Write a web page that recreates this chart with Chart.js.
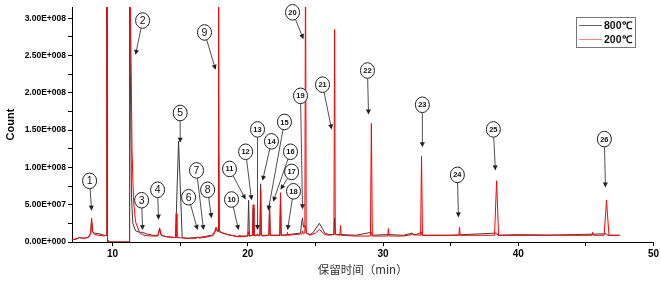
<!DOCTYPE html>
<html>
<head>
<meta charset="utf-8">
<script src="https://cdn.jsdelivr.net/npm/chart.js@4.4.1/dist/chart.umd.min.js"></script>
<style>
  html, body { margin: 0; padding: 0; background: #fff; }
  #wrap { width: 661px; height: 281px; }
</style>
</head>
<body>
<div id="wrap"><canvas id="gc" width="661" height="281"></canvas></div>
<script>
// retention time (min) / signal in millions of counts
const trace800 = [
  [7.0, 3], [7.3, 4], [7.55, 6], [7.8, 5], [8.2, 6], [8.38, 10], [8.45, 28], [8.52, 14], [8.65, 12],
  [9.0, 11], [9.4, 9], [9.53, 9], [9.58, 400], [9.63, 2], [9.66, 0], [11.22, 0], [11.26, 400],
  [11.33, 200], [11.4, 60], [11.5, 25], [11.7, 15], [12.0, 13], [12.22, 13], [12.5, 11], [13.0, 9],
  [13.35, 9], [13.48, 17], [13.6, 9], [14.0, 7], [14.5, 6], [14.66, 6], [14.88, 135], [15.15, 6],
  [15.5, 5], [16.3, 6], [16.75, 7], [17.3, 9], [17.6, 14], [17.68, 18], [17.8, 14], [17.84, 118],
  [17.9, 16], [18.0, 13], [18.5, 10], [19.3, 7], [19.4, 8], [20.0, 8], [20.06, 56], [20.12, 8],
  [20.35, 9], [20.4, 45], [20.45, 9], [20.72, 9], [20.9, 9], [20.95, 78], [21.0, 9], [21.56, 9],
  [21.61, 45], [21.66, 9], [22.37, 9], [22.42, 58], [22.47, 9], [23.0, 10], [23.9, 12], [24.0, 28],
  [24.05, 32], [24.12, 20], [24.27, 22], [24.35, 12], [24.6, 10], [24.8, 12], [25.3, 25], [25.7, 12],
  [26.0, 10], [26.37, 10], [26.42, 32], [26.47, 10], [26.86, 10], [28.0, 9], [29.14, 13], [29.2, 9],
  [30.4, 10], [31.5, 9], [32.18, 12], [32.3, 9], [32.85, 13], [32.9, 9], [35.0, 9], [38.4, 12],
  [38.5, 9], [42.0, 9], [46.53, 11], [46.6, 9], [47.5, 9]
];
const trace200 = [
  [7.0, 3], [7.3, 4], [7.55, 6], [7.8, 5], [8.2, 6], [8.38, 12], [8.45, 32], [8.52, 14], [8.65, 10],
  [9.0, 9], [9.4, 8], [9.53, 9], [9.58, 400], [9.63, 2], [9.66, 0], [11.22, 0], [11.26, 400],
  [11.37, 242], [11.44, 122], [11.55, 56], [11.7, 27], [11.99, 13], [12.15, 10], [12.22, 11],
  [12.3, 9], [12.8, 8], [13.35, 8], [13.48, 19], [13.6, 9], [14.0, 7], [14.66, 6], [14.71, 38],
  [14.76, 6], [15.5, 5], [16.2, 5], [16.3, 7], [16.4, 5], [16.7, 6], [16.75, 8], [16.8, 6], [17.3, 8],
  [17.5, 10], [17.65, 20], [17.75, 14], [17.8, 16], [17.84, 400], [17.88, 18], [17.95, 13], [18.5, 10],
  [19.3, 7], [19.36, 9], [19.42, 7], [20.0, 8], [20.06, 14], [20.12, 8], [20.35, 9], [20.4, 50],
  [20.45, 9], [20.6, 8], [20.72, 11], [20.8, 8], [20.9, 9], [20.95, 70], [21.0, 9], [21.1, 8],
  [21.56, 9], [21.61, 52], [21.66, 9], [22.0, 9], [22.37, 9], [22.42, 66], [22.47, 9], [22.9, 9],
  [22.94, 13], [22.98, 9], [23.5, 10], [24.0, 11], [24.05, 15], [24.1, 11], [24.22, 12], [24.27, 400],
  [24.32, 12], [24.6, 9], [25.0, 12], [25.3, 17], [25.6, 11], [25.9, 9], [26.37, 10], [26.42, 285],
  [26.47, 10], [26.81, 9], [26.86, 22], [26.91, 9], [28.0, 8], [29.07, 8], [29.14, 159], [29.21, 8],
  [30.35, 8], [30.4, 18], [30.45, 8], [31.5, 8], [32.18, 10], [32.78, 9], [32.85, 115], [32.92, 9],
  [34.1, 9], [34.7, 9], [35.61, 9], [35.66, 20], [35.71, 9], [38.25, 9], [38.4, 82], [38.55, 9],
  [40.0, 10], [43.0, 9], [45.45, 9], [45.5, 13], [45.55, 9], [46.35, 9], [46.53, 56], [46.71, 9],
  [47.5, 9]
];
const seriesNames = ["800℃", "200℃"];

// peak labels: number, circle (t, v), arrow tip (t, v)
const peakLabels = [
  [1, 8.30, 82, 8.45, 42], [2, 12.22, 297, 11.70, 251], [3, 12.15, 56, 12.22, 16],
  [4, 13.33, 70, 13.40, 30], [5, 15.0, 173, 15.0, 133], [6, 15.62, 60, 16.29, 16],
  [7, 16.21, 96, 16.73, 16], [8, 17.03, 70, 17.32, 32], [9, 16.80, 281, 17.62, 231],
  [10, 18.80, 57, 19.32, 16], [11, 18.65, 98, 19.84, 57], [12, 19.84, 121, 20.28, 56],
  [13, 20.72, 151, 20.72, 16], [14, 21.75, 135, 21.09, 82], [15, 22.71, 161, 21.51, 42],
  [16, 23.16, 121, 21.88, 54], [17, 23.24, 94, 22.42, 70], [18, 23.38, 68, 22.94, 16],
  [19, 23.90, 196, 24.05, 44], [20, 23.31, 308, 24.12, 272], [21, 25.53, 211, 26.20, 151],
  [22, 28.85, 230, 28.93, 171], [23, 32.91, 184, 32.91, 127], [24, 35.50, 90, 35.58, 33],
  [25, 38.16, 151, 38.31, 96], [26, 46.37, 138, 46.45, 73]
];

function sci(v) {
  const val = v * 1e6;
  if (val === 0) return "0.00E+000";
  const e = Math.floor(Math.log10(val));
  return (val / Math.pow(10, e)).toFixed(2) + "E+" + String(e).padStart(3, "0");
}

const peakPlugin = {
  id: "peaks",
  afterDraw(chart) {
    const ctx = chart.ctx, xs = chart.scales.x, ys = chart.scales.y;
    ctx.save();
    peakLabels.forEach(p => {
      const cx = xs.getPixelForValue(p[1]), cy = ys.getPixelForValue(p[2]);
      const tx = xs.getPixelForValue(p[3]), ty = ys.getPixelForValue(p[4]);
      const rx = 7, ry = 7.8;
      const dx = tx - cx, dy = ty - cy, len = Math.hypot(dx, dy);
      const ux = dx / len, uy = dy / len;
      const k = 1 / Math.sqrt((ux * ux) / (rx * rx) + (uy * uy) / (ry * ry));
      ctx.strokeStyle = "#222";
      ctx.fillStyle = "#222";
      ctx.lineWidth = 0.8;
      ctx.beginPath();
      ctx.moveTo(cx + ux * k, cy + uy * k);
      ctx.lineTo(tx - ux * 4, ty - uy * 4);
      ctx.stroke();
      ctx.beginPath();
      ctx.moveTo(tx, ty);
      ctx.lineTo(tx - ux * 5 - uy * 2.5, ty - uy * 5 + ux * 2.5);
      ctx.lineTo(tx - ux * 5 + uy * 2.5, ty - uy * 5 - ux * 2.5);
      ctx.closePath();
      ctx.fill();
      ctx.beginPath();
      ctx.ellipse(cx, cy, rx, ry, 0, 0, Math.PI * 2);
      ctx.fillStyle = "#fff";
      ctx.fill();
      ctx.lineWidth = 1;
      ctx.stroke();
      ctx.fillStyle = "#111";
      ctx.textAlign = "center";
      ctx.textBaseline = "middle";
      ctx.font = p[0] < 10 ? "10.5px 'Liberation Sans', Arial" : "bold 7.5px 'Liberation Sans', Arial";
      ctx.fillText(String(p[0]), cx, cy + 0.5);
    });
    ctx.restore();
  }
};

const legendPlugin = {
  id: "boxLegend",
  afterDraw(chart) {
    const ctx = chart.ctx;
    ctx.save();
    ctx.strokeStyle = "#777";
    ctx.lineWidth = 1;
    ctx.strokeRect(576.5, 17.5, 59, 30);
    const cols = ["#666", "#ff8080"];
    seriesNames.forEach((name, i) => {
      const y = 25 + i * 14;
      ctx.strokeStyle = cols[i];
      ctx.beginPath();
      ctx.moveTo(579, y + 0.5);
      ctx.lineTo(602, y + 0.5);
      ctx.stroke();
      ctx.fillStyle = "#111";
      ctx.font = "bold 10.5px 'Liberation Sans', Arial";
      ctx.textAlign = "left";
      ctx.textBaseline = "middle";
      ctx.fillText(name, 604, y + 1);
    });
    ctx.restore();
  }
};

new Chart(document.getElementById("gc"), {
  type: "line",
  data: {
    datasets: [
      {
        label: seriesNames[0],
        data: trace800.map(d => ({ x: d[0], y: d[1] })),
        borderColor: "#3a3a3a",
        borderWidth: 1,
        pointRadius: 0,
        tension: 0,
        order: 1
      },
      {
        label: seriesNames[1],
        data: trace200.map(d => ({ x: d[0], y: d[1] })),
        borderColor: "#ff0000",
        borderWidth: 1,
        pointRadius: 0,
        tension: 0,
        order: 0
      }
    ]
  },
  options: {
    responsive: false,
    animation: false,
    devicePixelRatio: 1,
    layout: { padding: { top: 5, right: 7, left: 0, bottom: 0 } },
    plugins: { legend: { display: false }, tooltip: { enabled: false } },
    scales: {
      x: {
        type: "linear",
        min: 7,
        max: 50,
        afterFit: s => { s.height = 39; },
        grid: { drawOnChartArea: false, drawTicks: true, tickLength: 4, color: "#000" },
        border: { color: "#000", width: 1 },
        ticks: {
          stepSize: 5,
          includeBounds: false,
          autoSkip: false,
          maxRotation: 0,
          padding: 2,
          color: "#000",
          font: { family: "'Liberation Sans', Arial", size: 10, weight: "bold" },
          callback: v => (v % 10 === 0 ? String(v) : "")
        },
        title: {
          display: true,
          text: "保留时间（min）",
          color: "#333",
          padding: { top: 0, bottom: 4.4 },
          font: { family: "'Noto Sans CJK SC', sans-serif", size: 11.5 }
        }
      },
      y: {
        min: 0,
        max: 315,
        afterFit: s => { s.width = 72; },
        grid: { drawOnChartArea: false, drawTicks: true, tickLength: 4, color: "#000" },
        border: { color: "#000", width: 1 },
        ticks: {
          stepSize: 25,
          includeBounds: false,
          autoSkip: false,
          padding: 2,
          color: "#000",
          font: { family: "'Liberation Sans', Arial", size: 8.5, weight: "bold" },
          callback: v => (v % 50 === 0 ? sci(v) : "")
        },
        title: {
          display: true,
          text: "Count",
          color: "#000",
          padding: { top: 4.4, bottom: 0 },
          font: { family: "'Liberation Sans', Arial", size: 11, weight: "bold" }
        }
      }
    }
  },
  plugins: [peakPlugin, legendPlugin]
});
</script>
</body>
</html>
